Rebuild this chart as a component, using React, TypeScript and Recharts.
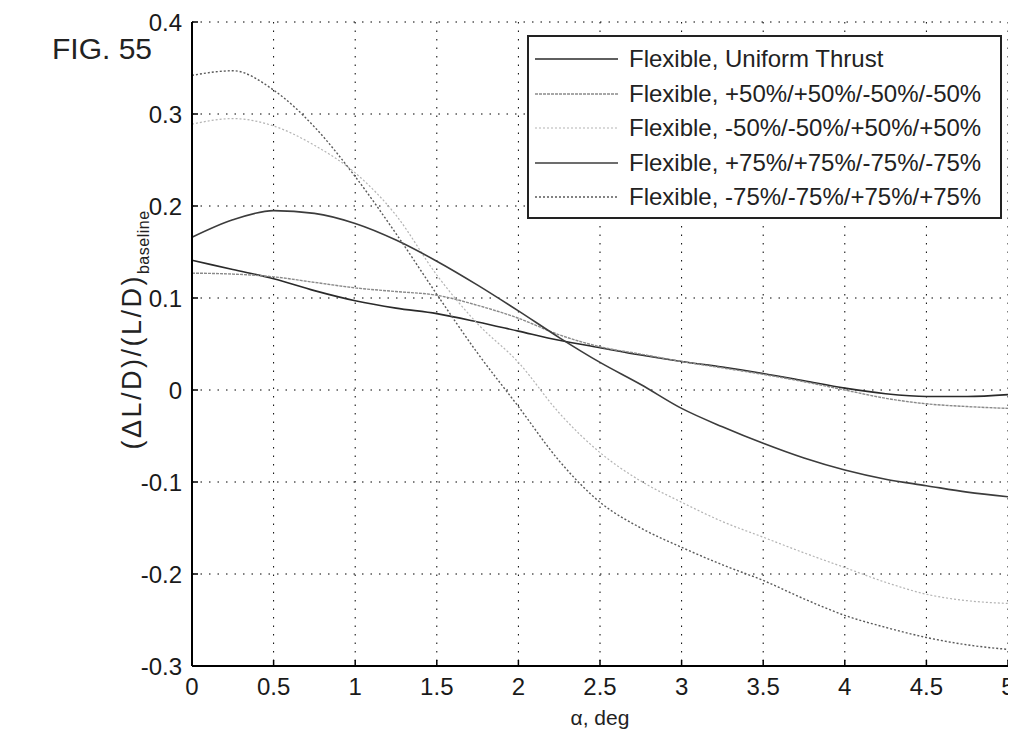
import React from "react";
import { LineChart, Line, XAxis, YAxis, CartesianGrid, Legend } from "recharts";

const alpha = [0, 0.25, 0.5, 0.75, 1, 1.25, 1.5, 1.75, 2, 2.25, 2.5, 2.75, 3, 3.25, 3.5, 3.75, 4, 4.25, 4.5, 4.75, 5];
const uniform = [0.141, 0.131, 0.121, 0.108, 0.097, 0.089, 0.083, 0.074, 0.064, 0.054, 0.046, 0.038, 0.031, 0.025, 0.018, 0.010, 0.002, -0.004, -0.007, -0.007, -0.005];
const plus50 = [0.127, 0.126, 0.123, 0.117, 0.111, 0.107, 0.103, 0.092, 0.078, 0.060, 0.047, 0.039, 0.031, 0.024, 0.017, 0.009, 0.000, -0.009, -0.015, -0.018, -0.020];
const minus50 = [0.289, 0.295, 0.287, 0.266, 0.236, 0.190, 0.125, 0.072, 0.030, -0.025, -0.068, -0.099, -0.122, -0.143, -0.160, -0.177, -0.193, -0.209, -0.222, -0.229, -0.232];
const plus75 = [0.166, 0.185, 0.195, 0.192, 0.181, 0.163, 0.140, 0.114, 0.086, 0.057, 0.030, 0.006, -0.020, -0.040, -0.058, -0.074, -0.087, -0.097, -0.104, -0.111, -0.116];
const minus75 = [0.342, 0.347, 0.326, 0.286, 0.232, 0.170, 0.104, 0.040, -0.018, -0.077, -0.122, -0.150, -0.171, -0.190, -0.207, -0.227, -0.245, -0.258, -0.269, -0.277, -0.282];

const xTicks = [0, 0.5, 1, 1.5, 2, 2.5, 3, 3.5, 4, 4.5, 5];
const yTicks = [-0.3, -0.2, -0.1, 0, 0.1, 0.2, 0.3, 0.4];

const seriesNames = [
  "Flexible, Uniform Thrust",
  "Flexible, +50%/+50%/-50%/-50%",
  "Flexible, -50%/-50%/+50%/+50%",
  "Flexible, +75%/+75%/-75%/-75%",
  "Flexible, -75%/-75%/+75%/+75%",
];
const seriesKeys = ["uniform", "plus50", "minus50", "plus75", "minus75"];
const seriesColors = ["#2a2a2a", "#8a8a8a", "#b4b4b4", "#3c3c3c", "#5a5a5a"];
const seriesDash = ["", "3 1", "2 2", "", "2 2"];
const seriesWidth = [1.6, 1.4, 1.2, 1.6, 1.4];

const data = alpha.map((a, i) => ({
  alpha: a,
  uniform: uniform[i],
  plus50: plus50[i],
  minus50: minus50[i],
  plus75: plus75[i],
  minus75: minus75[i],
}));

const FONT = "'Liberation Sans', Arial, sans-serif";

const LegendBox = () => (
  <div
    style={{
      width: 475,
      height: 184,
      boxSizing: "border-box",
      border: "2px solid #222",
      background: "#fff",
      paddingTop: 5,
      fontFamily: FONT,
    }}
  >
    {seriesNames.map((n, i) => (
      <div key={n} style={{ height: 34.5, display: "flex", alignItems: "center" }}>
        <svg width={100} height={10} style={{ flex: "none" }}>
          <line x1={6} y1={5} x2={89} y2={5} stroke={seriesColors[i]} strokeWidth={seriesWidth[i]} strokeDasharray={seriesDash[i] || undefined} />
        </svg>
        <span style={{ fontSize: 24, color: "#222", whiteSpace: "nowrap" }}>{n}</span>
      </div>
    ))}
  </div>
);

export default function App() {
  return (
    <div style={{ position: "relative", width: 1008, height: 729, background: "#fff", fontFamily: FONT }}>
      <LineChart
        width={1008}
        height={729}
        data={data}
        margin={{ top: 14, right: 8, left: 124, bottom: 21 }}
        style={{ overflow: "visible" }}
      >
        <CartesianGrid stroke="#000" strokeDasharray="1.5 7" strokeWidth={1} />
        <XAxis
          dataKey="alpha"
          type="number"
          domain={[0, 5]}
          ticks={xTicks}
          interval={0}
          tickFormatter={(v: number) => String(v)}
          height={50}
          tickSize={-6}
          tickMargin={18}
          tickLine={{ stroke: "#000", strokeWidth: 1.5 }}
          axisLine={{ stroke: "#000", strokeWidth: 2 }}
          tick={{ fill: "#1a1a1a", fontSize: 24, fontFamily: FONT }}
        />
        <YAxis
          type="number"
          domain={[-0.3, 0.4]}
          ticks={yTicks}
          interval={0}
          allowDataOverflow
          tickFormatter={(v: number) => (Math.abs(v) < 1e-9 ? "0" : v.toFixed(1))}
          width={60}
          tickSize={-6}
          tickMargin={16}
          tickLine={{ stroke: "#000", strokeWidth: 1.5 }}
          axisLine={{ stroke: "#000", strokeWidth: 2 }}
          tick={{ fill: "#1a1a1a", fontSize: 24, fontFamily: FONT }}
        />
        <Legend
          layout="horizontal"
          verticalAlign="middle"
          align="center"
          wrapperStyle={{ position: "absolute", left: 519, top: 27, width: 475, height: 184 }}
          content={() => <LegendBox />}
        />
        {seriesKeys.map((k, i) => (
          <Line
            key={k}
            dataKey={k}
            name={seriesNames[i]}
            type="monotone"
            stroke={seriesColors[i]}
            strokeWidth={seriesWidth[i]}
            strokeDasharray={seriesDash[i] || undefined}
            dot={false}
            activeDot={false}
            isAnimationActive={false}
          />
        ))}
      </LineChart>
      <svg
        width={1008}
        height={729}
        style={{ position: "absolute", left: 0, top: 0, pointerEvents: "none", overflow: "visible" }}
      >
        <text x={44} y={51} fontSize={30} fontFamily={FONT} fill="#222">FIG. 55</text>
        <text
          transform="translate(133, 322) rotate(-90)"
          textAnchor="middle"
          fontSize={27}
          fontFamily={FONT}
          fill="#222"
          letterSpacing={2.5}
        >
          (ΔL/D)/(L/D)
          <tspan fontSize={16} dy={8} letterSpacing={0.5}>baseline</tspan>
        </text>
        <text x={592} y={717} textAnchor="middle" fontSize={21} fontFamily={FONT} fill="#222">
          α, deg
        </text>
      </svg>
    </div>
  );
}
